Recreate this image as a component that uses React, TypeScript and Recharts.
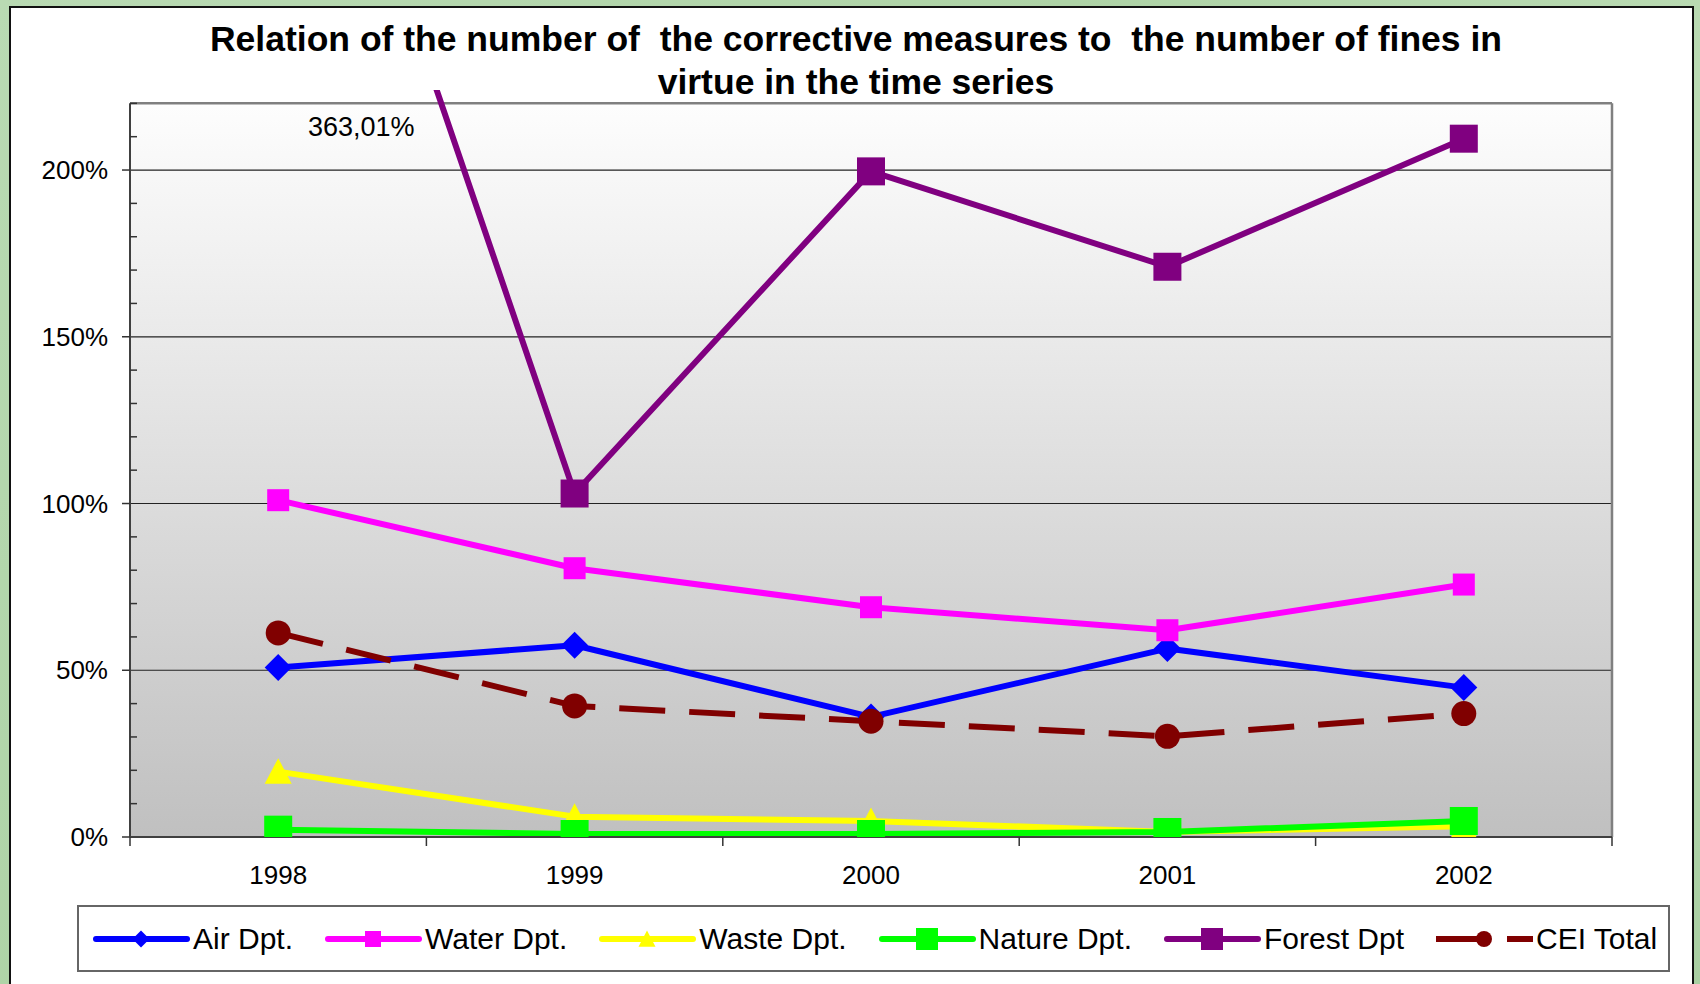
import React from 'react';
import {
  LineChart,
  Line,
  XAxis,
  YAxis,
  CartesianGrid,
  ReferenceLine,
  ReferenceDot,
  Legend,
} from 'recharts';

// ---------- data ----------
const years = ['1998', '1999', '2000', '2001', '2002'];
const airDpt = [50.8, 57.5, 36.0, 56.5, 44.8];
const waterDpt = [101.0, 80.6, 68.9, 62.0, 75.7];
const wasteDpt = [19.6, 6.1, 4.8, 1.5, 3.2];
const natureDpt = [2.2, 0.9, 0.9, 1.5, 4.8];
const forestDpt = [363.01, 103.0, 199.6, 171.0, 209.4];
const ceiTotal = [61.2, 39.3, 34.7, 30.2, 37.0];

const yTicks = [0, 10, 20, 30, 40, 50, 60, 70, 80, 90, 100, 110, 120, 130, 140, 150, 160, 170, 180, 190, 200, 210, 220];
const yMajorTicks = [0, 50, 100, 150, 200];
const yMax = 220;
const titleLines = [
  'Relation of the number of  the corrective measures to  the number of fines in',
  'virtue in the time series',
];

const FONT = '"Liberation Sans", Arial, Helvetica, sans-serif';

type Shape = 'diamond' | 'square' | 'triangle' | 'circle';
const series: {
  key: string;
  name: string;
  values: number[];
  color: string;
  shape: Shape;
  size: number;
  legendSize: number;
  dashed?: boolean;
}[] = [
  { key: 'air', name: 'Air Dpt.', values: airDpt, color: '#0000FF', shape: 'diamond', size: 27, legendSize: 17 },
  { key: 'water', name: 'Water Dpt.', values: waterDpt, color: '#FF00FF', shape: 'square', size: 22, legendSize: 16 },
  { key: 'waste', name: 'Waste Dpt.', values: wasteDpt, color: '#FFFF00', shape: 'triangle', size: 27, legendSize: 17 },
  { key: 'nature', name: 'Nature Dpt.', values: natureDpt, color: '#00FF00', shape: 'square', size: 28, legendSize: 22 },
  { key: 'forest', name: 'Forest Dpt', values: forestDpt, color: '#800080', shape: 'square', size: 28, legendSize: 22 },
  { key: 'cei', name: 'CEI Total', values: ceiTotal, color: '#800000', shape: 'circle', size: 25, legendSize: 16, dashed: true },
];

const data = years.map((year, i) => {
  const row: Record<string, number | string> = { idx: i, year };
  series.forEach((s) => {
    row[s.key] = s.values[i];
  });
  return row;
});

const xTicks = years.flatMap((_, i) => [i - 0.5, i]).concat([years.length - 0.5]);

function marker(shape: Shape, cx: number, cy: number, size: number, color: string, key?: string) {
  const h = size / 2;
  switch (shape) {
    case 'diamond':
      return (
        <polygon key={key} points={`${cx},${cy - h} ${cx + h},${cy} ${cx},${cy + h} ${cx - h},${cy}`} fill={color} />
      );
    case 'square':
      return <rect key={key} x={cx - h} y={cy - h} width={size} height={size} fill={color} />;
    case 'triangle':
      return (
        <polygon
          key={key}
          points={`${cx},${cy - h} ${cx + h},${cy + h * 0.9} ${cx - h},${cy + h * 0.9}`}
          fill={color}
        />
      );
    default:
      return <circle key={key} cx={cx} cy={cy} r={h} fill={color} />;
  }
}

const YTick = (props: any) => {
  const { x, y, payload } = props;
  const v = payload.value as number;
  if (yMajorTicks.includes(v)) {
    return (
      <g>
        <line x1={x - 8} x2={x} y1={y} y2={y} stroke="#333" strokeWidth={1.5} />
        <text x={x - 22} y={y + 9} textAnchor="end" fontSize={26} fill="#000" fontFamily={FONT}>
          {`${v}%`}
        </text>
      </g>
    );
  }
  return <line x1={x} x2={x + 7} y1={y} y2={y} stroke="#333" strokeWidth={1.5} />;
};

const XTick = (props: any) => {
  const { x, y, payload } = props;
  const v = payload.value as number;
  if (Number.isInteger(v)) {
    return (
      <text x={x} y={y + 47} textAnchor="middle" fontSize={26} fill="#000" fontFamily={FONT}>
        {years[v]}
      </text>
    );
  }
  return <line x1={x} x2={x} y1={y} y2={y + 9} stroke="#333" strokeWidth={1.5} />;
};

const LegendContent = () => (
  <div
    style={{
      boxSizing: 'border-box',
      width: 1593,
      height: 67,
      border: '2px solid #666',
      background: '#fff',
      display: 'flex',
      alignItems: 'center',
      paddingLeft: 11,
      fontSize: 30,
      color: '#000',
      whiteSpace: 'nowrap',
      fontFamily: FONT,
    }}
  >
    {series.map((s) => (
      <div key={s.key} style={{ display: 'flex', alignItems: 'center', marginRight: 29 }}>
        <svg width={100} height={30} style={{ display: 'block' }}>
          <line
            x1={s.dashed ? 3 : 6}
            x2={s.dashed ? 100 : 97}
            y1={15}
            y2={15}
            stroke={s.color}
            strokeWidth={6}
            strokeLinecap={s.dashed ? 'butt' : 'round'}
            strokeDasharray={s.dashed ? '47 24' : undefined}
          />
          {marker(s.shape, 51, 15, s.legendSize, s.color)}
        </svg>
        <span style={{ marginLeft: 3, lineHeight: '34px' }}>{s.name}</span>
      </div>
    ))}
  </div>
);

const forestLabel = `${forestDpt[0].toFixed(2).replace('.', ',')}%`;

export default function App() {
  return (
    <div
      style={{
        position: 'absolute',
        left: 0,
        top: 0,
        width: 1700,
        height: 984,
        overflow: 'hidden',
        background: 'linear-gradient(135deg, #b9dab3 0%, #aed3a6 40%, #bcdcb5 70%, #a9cfa2 100%)',
        fontFamily: FONT,
      }}
    >
      <div
        style={{
          position: 'absolute',
          left: 9,
          top: 6,
          width: 1685,
          height: 1000,
          boxSizing: 'border-box',
          border: '2px solid #111',
          background: '#fff',
        }}
      />
      <div style={{ position: 'absolute', left: 0, top: 0 }}>
        <LineChart
          width={1700}
          height={984}
          data={data}
          margin={{ top: 90, right: 88, bottom: 87, left: 0 }}
        >
          <defs>
            <linearGradient id="plotBg" x1="0" y1="0" x2="0" y2="1">
              <stop offset="0%" stopColor="#ffffff" />
              <stop offset="1.8%" stopColor="#ffffff" />
              <stop offset="2.2%" stopColor="#fdfdfd" />
              <stop offset="100%" stopColor="#c0c0c0" />
            </linearGradient>
          </defs>
          <CartesianGrid
            vertical={false}
            horizontalValues={[50, 100, 150, 200]}
            stroke="#222"
            strokeWidth={1.2}
            fill="url(#plotBg)"
            fillOpacity={1}
          />
          <XAxis
            type="number"
            dataKey="idx"
            domain={[-0.5, years.length - 0.5]}
            ticks={xTicks}
            interval={0}
            tick={<XTick />}
            tickLine={false}
            tickSize={0}
            tickMargin={0}
            height={60}
            axisLine={{ stroke: '#404040', strokeWidth: 2 }}
          />
          <YAxis
            type="number"
            domain={[0, 224]}
            allowDataOverflow
            ticks={yTicks}
            interval={0}
            tick={<YTick />}
            tickLine={false}
            tickSize={0}
            tickMargin={0}
            width={130}
            axisLine={false}
          />
          <ReferenceLine y={yMax} stroke="#808080" strokeWidth={2.5} />
          <ReferenceLine
            segment={[
              { x: years.length - 0.5, y: 0 },
              { x: years.length - 0.5, y: yMax },
            ]}
            stroke="#808080"
            strokeWidth={2.5}
          />
          <ReferenceLine
            segment={[
              { x: -0.5, y: 0 },
              { x: -0.5, y: yMax },
            ]}
            stroke="#404040"
            strokeWidth={2}
          />
          {series.map((s) => (
            <Line
              key={s.key}
              type="linear"
              dataKey={s.key}
              name={s.name}
              stroke={s.color}
              strokeWidth={6}
              strokeDasharray={s.dashed ? '46 24' : undefined}
              strokeLinejoin="round"
              isAnimationActive={false}
              activeDot={false}
              dot={(p: any) => {
                if (p.cx == null || p.cy == null || Number.isNaN(p.cy)) return <g key={`${s.key}-${p.index}`} />;
                return marker(s.shape, p.cx, p.cy, s.size, s.color, `${s.key}-${p.index}`);
              }}
            />
          ))}
          <ReferenceDot
            x={0.28}
            y={213}
            r={0}
            fill="none"
            stroke="none"
            label={{ value: forestLabel, position: 'center', fontSize: 27, fill: '#000' }}
          />
          <Legend
            layout="horizontal"
            verticalAlign="middle"
            align="center"
            content={<LegendContent />}
            wrapperStyle={{ left: 77, top: 905, width: 1593, height: 67 }}
          />
        </LineChart>
      </div>
      {titleLines.map((t, i) => (
        <div
          key={i}
          style={{
            position: 'absolute',
            left: 0,
            width: 1712,
            top: 18 + i * 43,
            height: 43,
            lineHeight: '43px',
            textAlign: 'center',
            fontSize: 35.5,
            fontWeight: 'bold',
            whiteSpace: 'pre',
            color: '#000',
            pointerEvents: 'none',
          }}
        >
          {t}
        </div>
      ))}
    </div>
  );
}
